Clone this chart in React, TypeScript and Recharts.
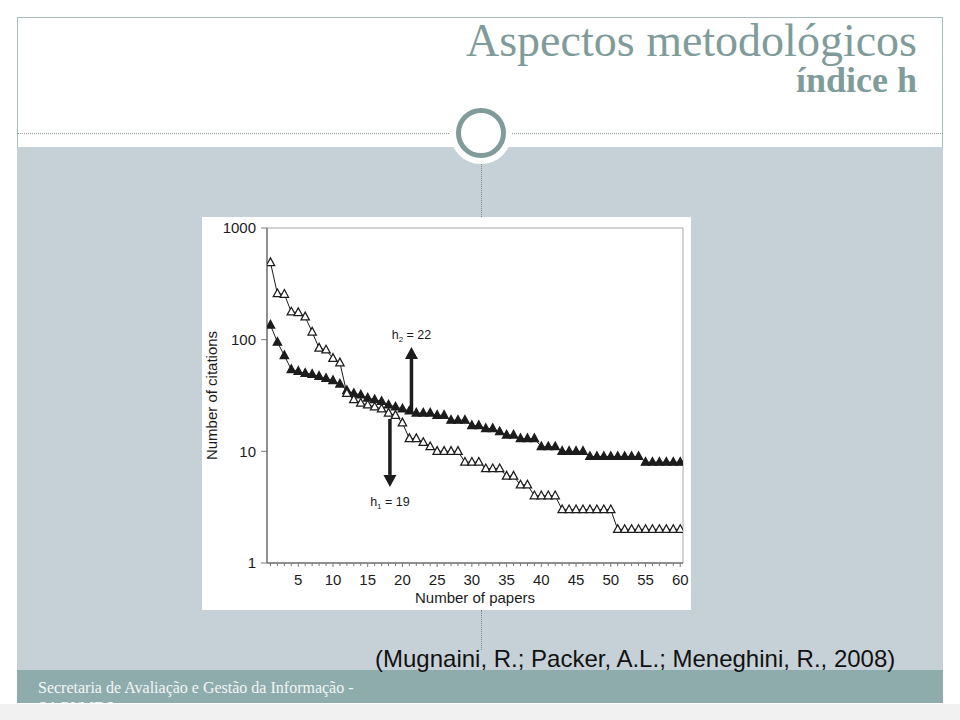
import { LineChart, Line, XAxis, YAxis, ReferenceArea, ReferenceLine } from 'recharts'

// papers ranked by citations
const papers = [
  1, 2, 3, 4, 5, 6, 7, 8, 9, 10, 11, 12, 13, 14, 15, 16, 17, 18, 19, 20,
  21, 22, 23, 24, 25, 26, 27, 28, 29, 30, 31, 32, 33, 34, 35, 36, 37, 38, 39, 40,
  41, 42, 43, 44, 45, 46, 47, 48, 49, 50, 51, 52, 53, 54, 55, 56, 57, 58, 59, 60,
]

// filled triangles (h2 = 22)
const citationsFilled = [
  135, 95, 72, 54, 52, 50, 49, 47, 45, 43,
  40, 35, 33, 32, 30, 29, 28, 26, 25, 24,
  23, 22, 22, 22, 21, 21, 19, 19, 19, 17,
  17, 16, 16, 15, 14, 14, 13, 13, 13, 11,
  11, 11, 10, 10, 10, 10, 9, 9, 9, 9,
  9, 9, 9, 9, 8, 8, 8, 8, 8, 8,
]

// open triangles (h1 = 19)
const citationsOpen = [
  490, 258, 255, 177, 175, 160, 117, 84, 81, 68,
  62, 33, 29, 27, 26, 25, 24, 22, 21, 18,
  13, 13, 12, 11, 10, 10, 10, 10, 8, 8,
  8, 7, 7, 7, 6, 6, 5, 5, 4, 4,
  4, 4, 3, 3, 3, 3, 3, 3, 3, 3,
  2, 2, 2, 2, 2, 2, 2, 2, 2, 2,
]

const yTicks = [1, 10, 100, 1000]
const xTickLabels = [5, 10, 15, 20, 25, 30, 35, 40, 45, 50, 55, 60]

const data = papers.map((paper, i) => ({
  paper,
  filled: citationsFilled[i],
  open: citationsOpen[i],
}))

const INK = '#1c1c1c'
const AXIS = '#7a7a7a'
const SANS = '"Liberation Sans", Arial, Helvetica, sans-serif'
const SERIF = '"Liberation Serif", "Times New Roman", serif'
const TEAL = '#7f9c9b'

function Triangle(props: any) {
  const { cx, cy, hollow } = props
  if (cx == null || cy == null) return null
  return (
    <polygon
      points={`${cx},${cy - 4.7} ${cx - 4.2},${cy + 3} ${cx + 4.2},${cy + 3}`}
      fill={hollow ? '#fff' : INK}
      stroke={INK}
      strokeWidth={1.25}
    />
  )
}

function XTick({ x, y, payload }: any) {
  const major = xTickLabels.includes(payload.value)
  return (
    <g>
      <line x1={x} x2={x} y1={y} y2={y + (major ? 4 : 3)} stroke={AXIS} />
      {major && (
        <text x={x} y={y + 22} textAnchor="middle" fontSize={15} fill={INK} fontFamily={SANS}>
          {payload.value}
        </text>
      )}
    </g>
  )
}

function YTick({ x, y, payload }: any) {
  return (
    <g>
      <line x1={x - 6} x2={x} y1={y} y2={y} stroke={AXIS} />
      <text x={x - 11} y={y} dy="0.36em" textAnchor="end" fontSize={15} fill={INK} fontFamily={SANS}>
        {payload.value}
      </text>
    </g>
  )
}

function hArrow(sub: string, value: number, labelBelow: boolean) {
  return (props: any) => {
    const { x1, y1, x2, y2 } = props
    const dir = y2 > y1 ? 1 : -1
    const head = 12
    return (
      <g>
        <line x1={x1} y1={y1} x2={x2} y2={y2 - dir * head} stroke={INK} strokeWidth={3.5} />
        <polygon
          points={`${x2},${y2} ${x2 - 6.5},${y2 - dir * head} ${x2 + 6.5},${y2 - dir * head}`}
          fill={INK}
        />
        <text
          x={x2}
          y={labelBelow ? y2 + 19 : y2 - 8}
          textAnchor="middle"
          fontSize={12.5}
          fill={INK}
          fontFamily={SANS}
        >
          h
          <tspan fontSize={8} dy={3}>{sub}</tspan>
          <tspan dy={-3}>{` = ${value}`}</tspan>
        </text>
      </g>
    )
  }
}

function CitationsChart() {
  return (
    <LineChart width={489} height={393} data={data} margin={{ top: 11, right: 8, bottom: 0, left: 0 }}>
      <XAxis
        dataKey="paper"
        type="number"
        domain={[0.5, 60.4]}
        ticks={papers}
        interval={0}
        allowDataOverflow
        tick={<XTick />}
        tickLine={false}
        tickSize={0}
        tickMargin={0}
        height={47}
        axisLine={{ stroke: AXIS, strokeWidth: 1.5 }}
        label={{ value: 'Number of papers', position: 'insideBottom', offset: 7, fontSize: 15, fill: INK, fontFamily: SANS }}
      />
      <YAxis
        type="number"
        scale="log"
        domain={[1, 1000]}
        ticks={yTicks}
        allowDataOverflow
        tick={<YTick />}
        tickLine={false}
        tickSize={0}
        tickMargin={0}
        width={65}
        axisLine={{ stroke: AXIS, strokeWidth: 1.5 }}
        label={({ viewBox }: any) => (
          <text
            x={viewBox.x + 15}
            y={viewBox.y + viewBox.height / 2}
            transform={`rotate(-90 ${viewBox.x + 15} ${viewBox.y + viewBox.height / 2})`}
            textAnchor="middle"
            fontSize={15}
            fill={INK}
            fontFamily={SANS}
          >
            Number of citations
          </text>
        )}
      />
      <ReferenceArea x1={0.5} x2={60.4} y1={1} y2={1000} fill="none" stroke="#a8a8a8" strokeWidth={1} />
      <Line
        type="linear"
        dataKey="filled"
        stroke={INK}
        strokeWidth={1}
        isAnimationActive={false}
        dot={(p: any) => <Triangle key={`f${p.index}`} cx={p.cx} cy={p.cy} />}
      />
      <Line
        type="linear"
        dataKey="open"
        stroke={INK}
        strokeWidth={1}
        isAnimationActive={false}
        dot={(p: any) => <Triangle key={`o${p.index}`} cx={p.cx} cy={p.cy} hollow />}
      />
      <ReferenceLine segment={[{ x: 21.3, y: 22.5 }, { x: 21.3, y: 86 }]} shape={hArrow('2', 22, false)} />
      <ReferenceLine segment={[{ x: 18.2, y: 19.5 }, { x: 18.2, y: 4.8 }]} shape={hArrow('1', 19, true)} />
    </LineChart>
  )
}

export default function App() {
  return (
    <div style={{ position: 'relative', width: 960, height: 720, background: '#fff', overflow: 'hidden', fontFamily: SERIF }}>
      <style>{'body{margin:0}'}</style>
      <div style={{ position: 'absolute', left: 0, top: 704, width: 960, height: 16, background: '#f1f1f1' }} />
      {/* slide frame */}
      <div style={{ position: 'absolute', left: 17, top: 17, width: 926, height: 686, border: '1px solid #a9bcbc', boxSizing: 'border-box' }} />
      {/* grey band */}
      <div style={{ position: 'absolute', left: 17, top: 147, width: 926, height: 523, background: '#c6d1d7' }} />
      {/* footer band, second line is clipped like on the slide */}
      <div style={{ position: 'absolute', left: 17, top: 670, width: 926, height: 33, background: '#8eacab', overflow: 'hidden' }}>
        <div style={{ position: 'absolute', left: 21, top: 8, width: 340, fontSize: 16, lineHeight: '20px', color: '#f3f6f6', fontFamily: SERIF }}>
          Secretaria de Avaliação e Gestão da Informação - SAGI/MDS
        </div>
      </div>
      {/* dotted divider + ring */}
      <div style={{ position: 'absolute', left: 17, top: 133, width: 926, borderTop: '1px dotted #8c9c9c' }} />
      <div style={{ position: 'absolute', left: 481, top: 164, height: 53, borderLeft: '1px dotted #7d8585' }} />
      <div style={{ position: 'absolute', left: 481, top: 610, height: 40, borderLeft: '1px dotted #7d8585' }} />
      <div style={{ position: 'absolute', left: 450, top: 102, width: 62, height: 62, borderRadius: '50%', background: '#fff' }} />
      <div style={{ position: 'absolute', left: 456, top: 108, width: 50, height: 50, borderRadius: '50%', border: `5px solid ${TEAL}`, boxSizing: 'border-box', background: '#fff' }} />
      {/* titles */}
      <div style={{ position: 'absolute', right: 43, top: 21, fontSize: 46, lineHeight: '40px', color: TEAL, fontFamily: SERIF, whiteSpace: 'nowrap' }}>
        Aspectos metodológicos
      </div>
      <div style={{ position: 'absolute', right: 43, top: 64, fontSize: 36, lineHeight: '32px', color: TEAL, fontWeight: 'bold', fontFamily: SERIF, whiteSpace: 'nowrap' }}>
        índice h
      </div>
      {/* figure */}
      <div style={{ position: 'absolute', left: 202, top: 217, width: 489, height: 393, background: '#fff' }}>
        <CitationsChart />
      </div>
      <div style={{ position: 'absolute', left: 375, top: 647, fontSize: 24, lineHeight: 1, color: '#111', fontFamily: SANS, whiteSpace: 'nowrap' }}>
        (Mugnaini, R.; Packer, A.L.; Meneghini, R., 2008)
      </div>
    </div>
  )
}
